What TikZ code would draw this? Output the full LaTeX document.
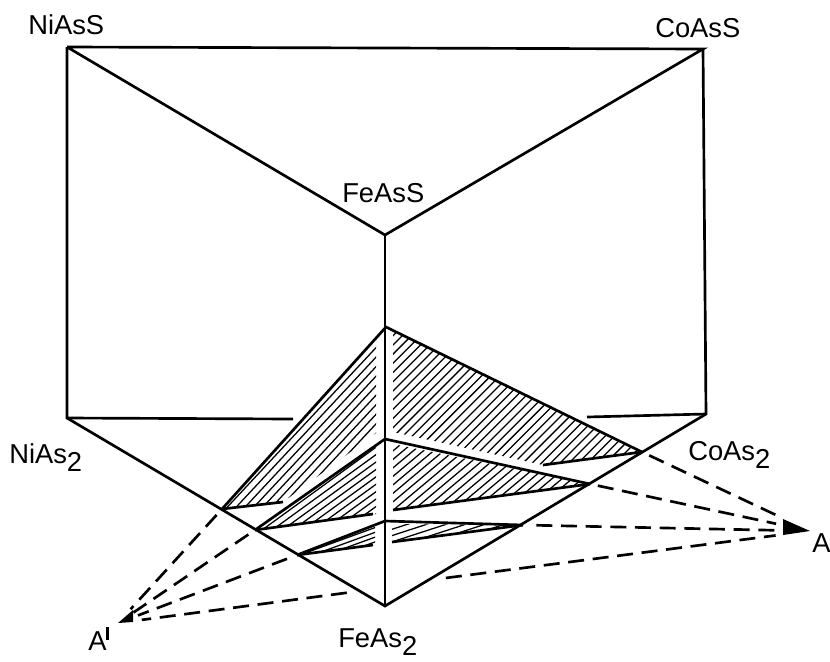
\documentclass[tikz,border=0pt]{standalone}
\usepackage{fontspec}
\setmainfont{Liberation Sans}
\tikzset{
  edge/.style={line width=2pt},
  dashline/.style={line width=2pt,dash pattern=on 12pt off 6.5pt},
  hatchline/.style={line width=0.95pt},
  label/.style={font=\fontsize{20.5}{22}\selectfont,inner sep=0pt,anchor=base west}
}
\newcommand{\hatchfill}[3]{
  \begin{scope}
    \clip #1 -- cycle;
    \foreach \k in {-100,...,100}
      \draw[hatchline,shift={(385,500)}] ({\k*#3*sin(#2)-500*cos(#2)},{\k*#3*cos(#2)+500*sin(#2)}) -- ({\k*#3*sin(#2)+500*cos(#2)},{\k*#3*cos(#2)-500*sin(#2)});
  \end{scope}
}
\newcommand{\subtwo}{\smash{\raisebox{-6pt}{2}}}
\begin{document}
\begin{tikzpicture}[x=0.75pt,y=-0.75pt]
\useasboundingbox (0,0) rectangle (830,661);

\coordinate (nias) at (67,47);
\coordinate (coas) at (703,49);
\coordinate (feas) at (385,235);
\coordinate (nias2) at (67,418);
\coordinate (coas2) at (706,414);
\coordinate (feas2) at (385,606);
\coordinate (top1) at (386,327);
\coordinate (top2) at (385,439);
\coordinate (top3) at (385,521);
\coordinate (left1) at (222,509);
\coordinate (left2) at (255,530);
\coordinate (left3) at (297,555);
\coordinate (right1) at (642,452);
\coordinate (right2) at (590,484);
\coordinate (right3) at (523,525);
\coordinate (low1) at (360,591);
\coordinate (low2) at (430,580);
\coordinate (tipa) at (810,531);
\coordinate (tipb) at (118,623);

\node[label] (nilab) at (28,34) {NiAsS};
\node[label] (colab) at (655,37) {CoAsS};
\node[label] (felab) at (342,202) {FeAsS};
\node[label] (ni2lab) at (9,463) {NiAs\subtwo};
\node[label] (co2lab) at (688,460) {CoAs\subtwo};
\node[label] (fe2lab) at (338,647) {FeAs\subtwo};
\node[label] (alab) at (812,552) {A};
\node[label] (blab) at (88,650) {A\rule[7.5pt]{1.6pt}{10pt}};

\hatchfill{(376,338) -- (376,433) -- (283,502) -- (left1)}{47}{6.5}
\hatchfill{(left2) -- (376,447) -- (376,514)}{36}{6}
\hatchfill{(left3) -- (375,526) -- (375,545)}{20}{4.5}
\hatchfill{(393,331) -- (right1) -- (543,465) -- (393,432)}{45}{6.5}
\hatchfill{(393,444) -- (right2) -- (393,510)}{40}{6.5}
\hatchfill{(392,524) -- (right3) -- (392,542)}{18}{6}

\draw[edge] (nias) -- (coas) -- (feas) -- (nias);
\draw[edge] (nias) -- (nias2) -- (feas2) -- (coas2) -- (coas);
\draw[edge] (feas) -- (feas2);
\draw[edge] (nias2) -- (293,419);
\draw[edge] (587,417) -- (coas2);

\draw[edge] (left1) -- (top1) -- (right1);
\draw[edge] (left2) -- (top2) -- (right2);
\draw[edge] (left3) -- (top3) -- (right3);
\draw[edge] (left1) -- (283,502);
\draw[edge] (left2) -- (373,514);
\draw[edge] (left3) -- (373,545);
\draw[edge] (right1) -- (543,465);
\draw[edge] (right2) -- (393,510);
\draw[edge] (right3) -- (392,542);

\draw[dashline,shorten <=6pt,shorten >=26pt] (right1) -- (tipa);
\draw[dashline,shorten <=6pt,shorten >=26pt] (right2) -- (tipa);
\draw[dashline,shorten <=10pt,shorten >=26pt] (right3) -- (tipa);
\draw[dashline,shorten <=12pt,shorten >=26pt] (low2) -- (tipa);
\draw[dashline,shorten <=6pt,shorten >=14pt] (left1) -- (tipb);
\draw[dashline,shorten <=6pt,shorten >=14pt] (left2) -- (tipb);
\draw[dashline,shorten <=8pt,shorten >=16pt] (left3) -- (tipb);
\draw[dashline,shorten <=10pt,shorten >=18pt] (low1) -- (tipb);

\fill (tipa) -- (783,519) -- (783,535) -- cycle;
\fill (tipb) -- (133,610) -- (133,622) -- cycle;
\end{tikzpicture}
\end{document}
